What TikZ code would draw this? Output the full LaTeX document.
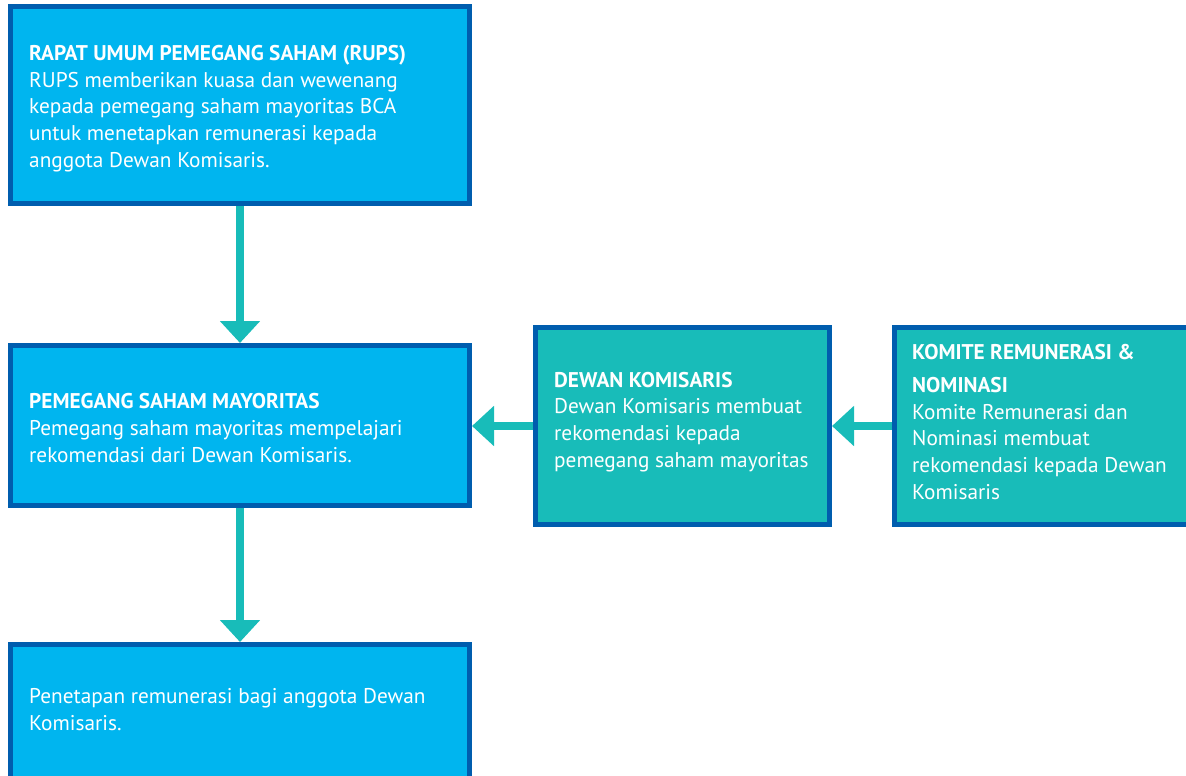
\documentclass[tikz,border=0pt]{standalone}
\usepackage{fontspec}
\setmainfont{PT Sans}
\usetikzlibrary{arrows.meta}

\definecolor{boxblue}{HTML}{00B5EF}
\definecolor{edgeblue}{HTML}{005DAE}
\definecolor{boxteal}{HTML}{18BCB9}

\begin{document}
\begin{tikzpicture}[x=1pt,y=-1pt,
  blok/.style={draw=edgeblue, line width=5pt, fill=boxblue, inner sep=0pt},
  tosca/.style={blok, fill=boxteal},
  isi/.style={text=white, align=left, inner sep=0pt, anchor=west,
    font=\fontsize{21.3}{26.75}\selectfont},
  panah/.style={draw=boxteal, line width=8pt,
    -{Triangle[width=39pt,length=22pt]}}]
  \useasboundingbox (0,0) rectangle (1186,776);
  % kotak
  \node[blok, minimum width=459pt, minimum height=197pt] (rups) at (240,105) {};
  \node[blok, minimum width=459pt, minimum height=160pt] (mayoritas) at (240,425.5) {};
  \node[blok, minimum width=459pt, minimum height=136pt] (penetapan) at (240,712.5) {};
  \node[tosca, minimum width=294pt, minimum height=197pt] (dewan) at (682.5,426) {};
  \node[tosca, minimum width=310pt, minimum height=197pt] (komite) at (1049.5,426) {};
  % teks
  \node[isi] (rupstext) at ([xshift=21pt,yshift=-3.5pt]rups.west)
    {\textbf{RAPAT UMUM PEMEGANG SAHAM (RUPS)}\\
     RUPS memberikan kuasa dan wewenang\\
     kepada pemegang saham mayoritas BCA\\
     untuk menetapkan remunerasi kepada\\
     anggota Dewan Komisaris.};
  \node[isi] (mayoritastext) at ([xshift=21pt,yshift=-2.5pt]mayoritas.west)
    {\textbf{PEMEGANG SAHAM MAYORITAS}\\
     Pemegang saham mayoritas mempelajari\\
     rekomendasi dari Dewan Komisaris.};
  \node[isi] (penetapantext) at ([xshift=21pt,yshift=3pt]penetapan.west)
    {Penetapan remunerasi bagi anggota Dewan\\
     Komisaris.};
  \node[isi] (dewantext) at ([xshift=21pt,yshift=4pt]dewan.west)
    {\textbf{DEWAN KOMISARIS}\\
     Dewan Komisaris membuat\\
     rekomendasi kepada\\
     pemegang saham mayoritas};
  \node[isi] (komitetext) at ([xshift=20pt,yshift=4pt]komite.west)
    {\textbf{KOMITE REMUNERASI \&}\\[6pt]
     \textbf{NOMINASI}\\
     Komite Remunerasi dan\\
     Nominasi membuat\\
     rekomendasi kepada Dewan\\
     Komisaris};
  % panah
  \draw[panah] (rups) -- (mayoritas);
  \draw[panah] (mayoritas) -- (penetapan);
  \draw[panah] (dewan.west) -- (mayoritas.east |- dewan.west);
  \draw[panah] (komite.west) -- (dewan.east |- komite.west);
\end{tikzpicture}
\end{document}
